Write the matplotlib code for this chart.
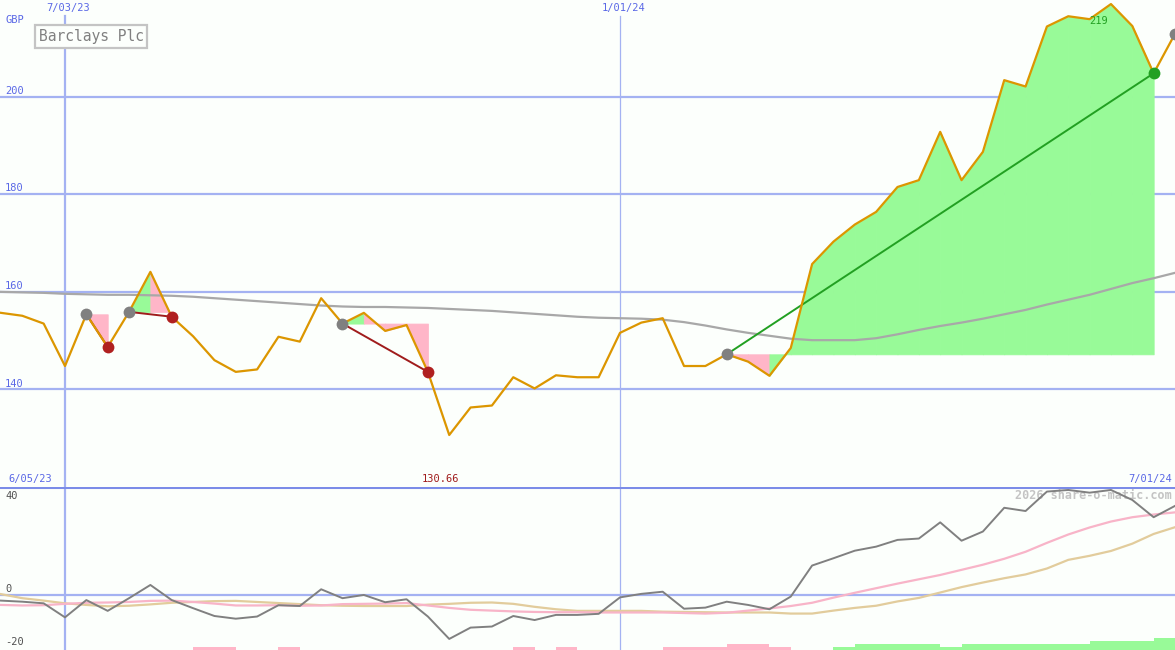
import matplotlib
matplotlib.use("Agg")
import matplotlib.pyplot as plt
import matplotlib.transforms as mtransforms
import numpy as np

# weekly data, week 0 = 6/05/23, week 56 = 7/01/24
weeks = np.arange(1, 57)
price = [155.7, 155.1, 153.5, 144.8, 155.4, 148.7, 155.9, 164.1, 154.9, 150.9,
         146.0, 143.6, 144.1, 150.8, 149.8, 158.7, 153.5, 155.7, 152.0, 153.2,
         143.6, 130.66, 136.3, 136.7, 142.5, 140.2, 142.9, 142.5, 142.5, 151.6,
         153.7, 154.6, 144.8, 144.8, 147.2, 145.7, 142.8, 148.5, 165.7, 170.3,
         173.8, 176.4, 181.5, 182.9, 192.8, 182.9, 188.7, 203.4, 202.1, 214.4,
         216.5, 215.9, 219.0, 214.5, 204.8, 212.9]
ma = [160.0, 159.9, 159.8, 159.6, 159.5, 159.4, 159.4, 159.3, 159.2, 159.0,
      158.7, 158.4, 158.1, 157.8, 157.5, 157.2, 157.0, 156.9, 156.9, 156.8,
      156.7, 156.5, 156.3, 156.1, 155.8, 155.5, 155.2, 154.9, 154.7, 154.6,
      154.5, 154.3, 153.8, 153.1, 152.3, 151.6, 151.0, 150.4, 150.1, 150.1,
      150.1, 150.5, 151.3, 152.2, 153.0, 153.7, 154.5, 155.4, 156.3, 157.4,
      158.4, 159.4, 160.6, 161.8, 162.8, 163.9]

osc = [-2.1, -2.5, -3.1, -8.3, -1.9, -5.9, -1.2, 3.7, -1.9, -4.9,
       -7.8, -8.8, -8.0, -3.8, -4.1, 2.1, -1.2, 0.0, -2.7, -1.6,
       -8.0, -16.3, -12.1, -11.7, -7.8, -9.3, -7.4, -7.4, -7.0, -0.9,
       0.4, 1.2, -5.1, -4.7, -2.5, -3.7, -5.3, -0.6, 10.9, 13.6,
       16.4, 17.9, 20.4, 20.9, 26.9, 20.1, 23.5, 32.3, 31.1, 38.3,
       38.9, 37.9, 38.9, 35.2, 28.8, 33.0]
osc_fast = [-3.7, -3.9, -3.8, -3.3, -2.9, -2.8, -2.6, -2.2, -2.1, -2.6,
            -3.2, -3.9, -3.9, -3.8, -4.0, -3.9, -3.4, -3.3, -3.2, -3.0,
            -3.9, -4.8, -5.5, -5.8, -6.1, -6.3, -6.4, -6.4, -6.5, -6.5,
            -6.5, -6.5, -6.7, -6.9, -6.6, -5.8, -5.0, -4.1, -2.9, -1.0,
            0.8, 2.5, 4.2, 5.8, 7.4, 9.3, 11.2, 13.4, 16.0, 19.3,
            22.4, 25.0, 27.2, 28.8, 29.8, 30.6]
osc_slow = [0.3, -1.2, -2.1, -3.1, -3.7, -4.2, -4.0, -3.5, -2.9, -2.6,
            -2.3, -2.2, -2.6, -3.0, -3.4, -3.8, -4.0, -4.1, -4.1, -4.1,
            -3.6, -3.3, -2.9, -2.8, -3.3, -4.4, -5.3, -5.9, -5.9, -5.9,
            -5.9, -6.2, -6.3, -6.4, -6.5, -6.5, -6.5, -6.9, -6.9, -5.8,
            -4.8, -4.0, -2.4, -1.1, 0.9, 2.9, 4.6, 6.2, 7.6, 9.8,
            13.0, 14.5, 16.3, 19.0, 22.6, 25.1]
# signal bars per week (negative = pink, positive = green)
bar_week = [10, 11, 14, 25, 27, 32, 33, 34, 35, 36, 37,
            40, 41, 42, 43, 44, 45, 46, 47, 48, 49, 50, 51, 52, 53, 54, 55]
bar_val = [-1.1, -1.1, -1.1, -1.1, -1.1, -1.1, -1.1, -1.1, -2.2, -2.2, -1.1,
           1.1, 2.2, 2.2, 2.2, 2.2, 1.1, 2.2, 2.2, 2.2, 2.2, 2.2, 2.2, 3.3, 3.3, 3.3, 4.4]

# trades
trade_entry = [5, 7, 17, 35]
trade_exit = [6, 9, 21, 55]
trade_fills = ["p", "gp", "gppp", "pp" + "g" * 18]
open_entry = 56

xticks_week = [4, 30]
xtick_labels = ["7/03/23", "1/01/24"]
start_label, end_label = "6/05/23", "7/01/24"
price_ticks = [140, 160, 180, 200]
osc_ticks = [40, 0, -20]

bg = "#fcfffc"
grid_c = "#a4b2f2"
blue_txt = "#5a68e6"
orange = "#dc9600"
pink = "#ffb6c8"
green_fill = "#98fa98"
mono = "DejaVu Sans Mono"

fig = plt.figure(figsize=(11.75, 6.5), dpi=100, facecolor=bg)
ax = fig.add_axes([0, 163 / 650, 1, 487 / 650])
ax2 = fig.add_axes([0, 0, 1, 163 / 650])
for a in (ax, ax2):
    a.set_axis_off()
    a.set_xlim(0.955, 56)
ax.set_ylim(120, 219.83)
ax2.set_ylim(-20.4, 40)

tr = mtransforms.blended_transform_factory(ax.transData, ax.transAxes)
tr_y = mtransforms.blended_transform_factory(ax.transAxes, ax.transData)
tr2_y = mtransforms.blended_transform_factory(ax2.transAxes, ax2.transData)

# grid top
for v in price_ticks:
    ax.axhline(v, color=grid_c, lw=1.6, zorder=1)
    ax.text(0.0043, v + 1.2, str(v), transform=tr_y, color=blue_txt,
            fontsize=7.5, family=mono, va="center", ha="left")
ax.axvline(xticks_week[0], ymax=0.967, color=grid_c, lw=1.6, zorder=1)
ax.axvline(xticks_week[1], ymax=0.967, color=grid_c, lw=0.9, zorder=1)
for wk, lab in zip(xticks_week, xtick_labels):
    ax.text(wk + 0.15, 0.984, lab, transform=tr, color=blue_txt, fontsize=7.5,
            family=mono, ha="center", va="center")
ax.text(0.0043, 215.7, "GBP", transform=tr_y, color=blue_txt, fontsize=7.5,
        family=mono, va="center", ha="left")
ax.text(0.033, 0.925, "Barclays Plc", transform=ax.transAxes, color="#808080",
        fontsize=10.5, family=mono, va="center", ha="left",
        bbox=dict(boxstyle="square,pad=0.25", fc=bg, ec="#c4c4c4", lw=1.6))

# moving average
ax.plot(weeks, ma, color="#a8a8a8", lw=1.6, zorder=2)

# trade fills and lines
for e, x, fills in zip(trade_entry, trade_exit, trade_fills):
    lvl = price[e - 1]
    for i, c in enumerate(fills):
        w0 = e + i
        col = pink if c == "p" else green_fill
        ax.fill_between([w0, w0 + 1], [lvl, lvl], [price[w0 - 1], price[w0]],
                        facecolor=col, edgecolor=col, lw=0.6, zorder=1.5)
for e, x in zip(trade_entry, trade_exit):
    win = price[x - 1] > price[e - 1]
    ax.plot([e, x], [price[e - 1], price[x - 1]],
            color="#22a022" if win else "#a01c1c", lw=1.4, zorder=3)

ax.plot(weeks, price, color=orange, lw=1.6, zorder=4)

for e, x in zip(trade_entry, trade_exit):
    win = price[x - 1] > price[e - 1]
    ax.plot(e, price[e - 1], "o", color="#808080", ms=8.5, mec="none", zorder=5)
    ax.plot(x, price[x - 1], "o", color="#22a022" if win else "#b02020",
            ms=8.5, mec="none", zorder=5)
ax.plot(open_entry, price[open_entry - 1], "o", color="#808080", ms=8.5,
        mec="none", zorder=5)

imax = int(np.argmax(price))
imin = int(np.argmin(price))
ax.text(weeks[imax] - 0.6, price[imax] - 3.5, f"{price[imax]:.0f}", color="#22a022",
        fontsize=7.5, family=mono, ha="center", va="center", zorder=6)
ax.text(weeks[imin] - 0.4, 0.016, f"{price[imin]:.2f}", transform=tr, color="#a01c1c",
        fontsize=7.5, family=mono, ha="center", va="center")
ax.text(0.007, 0.016, start_label, transform=ax.transAxes, color=blue_txt,
        fontsize=7.5, family=mono, ha="left", va="center")
ax.text(0.9975, 0.016, end_label, transform=ax.transAxes, color=blue_txt,
        fontsize=7.5, family=mono, ha="right", va="center")

# bottom panel
ax2.axhline(0, color=grid_c, lw=1.6, zorder=1)
ax2.axhline(40, color="#7b8ce8", lw=2.2, zorder=6)
ax2.axvline(xticks_week[0], color=grid_c, lw=1.6, zorder=1)
ax2.axvline(xticks_week[1], color=grid_c, lw=0.9, zorder=1)
for v, yy in zip(osc_ticks, [36.7, 2.2, -17.4]):
    ax2.text(0.0043, yy, str(v), transform=tr2_y, color="#505050", fontsize=7.5,
             family=mono, ha="left", va="center")
ax2.text(0.9974, 36.7, "2026 share-o-matic.com", transform=tr2_y, color="#c4c4c4",
         fontsize=8.5, family=mono, fontweight="bold", ha="right", va="center")

ax2.bar(bar_week, np.abs(bar_val), width=1, align="edge", bottom=-20.4,
        color=[green_fill if v > 0 else pink for v in bar_val], lw=0, zorder=2)
ax2.plot(weeks, osc_slow, color="#e2cc9c", lw=1.6, zorder=3)
ax2.plot(weeks, osc_fast, color="#f8b4c8", lw=1.6, zorder=3)
ax2.plot(weeks, osc, color="#808080", lw=1.4, zorder=4)

fig.savefig("out.png", dpi=100, facecolor=bg)
